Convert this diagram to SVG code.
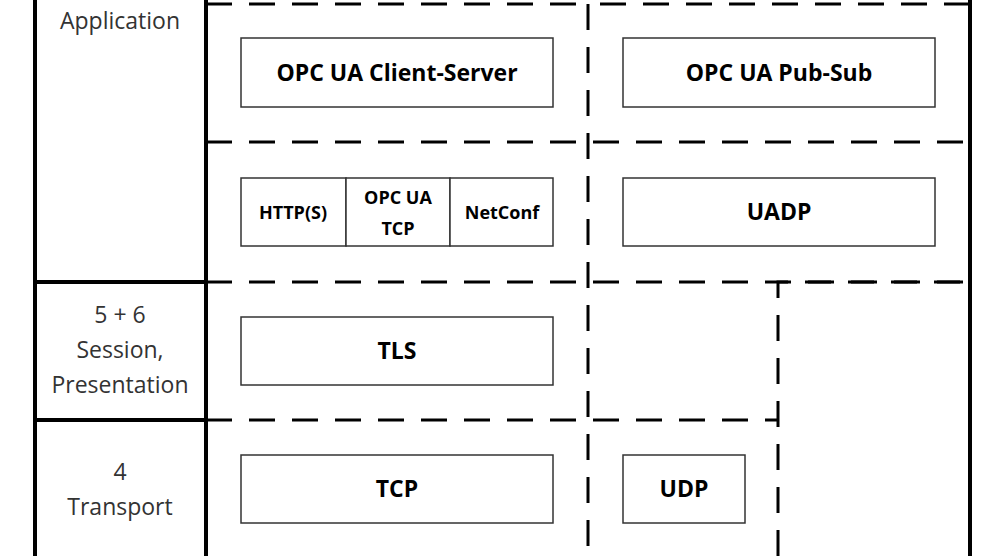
<svg xmlns="http://www.w3.org/2000/svg" width="1000" height="556" viewBox="0 0 1000 556">
<style>
.thick{stroke:#000;stroke-width:4;fill:none}
.dash{stroke:#000;stroke-width:3;fill:none;stroke-dasharray:26 17}
.box{fill:#fff;stroke:#333;stroke-width:1.5}
.b{font-family:"Open Sans","Liberation Sans",sans-serif;font-weight:bold;font-size:23px;fill:#000;text-anchor:middle}
.s{font-family:"Open Sans","Liberation Sans",sans-serif;font-weight:bold;font-size:18px;fill:#000;text-anchor:middle}
.l{font-family:"Open Sans","Liberation Sans",sans-serif;font-size:23px;fill:#333;text-anchor:middle}
</style>
<rect width="1000" height="556" fill="#fff"/>
<g id="frame">
<line class="thick" x1="35" y1="0" x2="35" y2="556"/>
<line class="thick" x1="206" y1="0" x2="206" y2="556"/>
<line class="thick" x1="35" y1="282" x2="206" y2="282"/>
<line class="thick" x1="35" y1="420" x2="206" y2="420"/>
<line class="thick" x1="970" y1="0" x2="970" y2="556"/>
</g>
<g id="connectors">
<line class="dash" x1="206" y1="4" x2="588" y2="4"/>
<line class="dash" x1="600" y1="4" x2="970" y2="4"/>
<line class="dash" x1="588" y1="4" x2="588" y2="556"/>
<line class="dash" x1="206" y1="142" x2="970" y2="142"/>
<line class="dash" x1="206" y1="282" x2="970" y2="282"/>
<line class="dash" x1="206" y1="420" x2="778" y2="420"/>
<path class="dash" d="M778 556 V282 H970"/>
</g>
<g id="labels">
<text class="l" x="120" y="29">Application</text>
<text class="l" x="120" y="323">5 + 6</text>
<text class="l" x="120" y="358">Session,</text>
<text class="l" x="120" y="393">Presentation</text>
<text class="l" x="120" y="480">4</text>
<text class="l" x="120" y="515">Transport</text>
</g>
<g id="client-server"><rect class="box" x="241" y="38" width="312" height="69"/><text class="b" x="397" y="81">OPC UA Client-Server</text></g>
<g id="pub-sub"><rect class="box" x="623" y="38" width="312" height="69"/><text class="b" x="779" y="81">OPC UA Pub-Sub</text></g>
<g id="http"><rect class="box" x="241" y="178" width="105" height="68"/><text class="s" x="293" y="219">HTTP(S)</text></g>
<g id="opcua-tcp"><rect class="box" x="346" y="178" width="104" height="68"/><text class="s" x="398" y="204">OPC UA</text><text class="s" x="398" y="235">TCP</text></g>
<g id="netconf"><rect class="box" x="450" y="178" width="103" height="68"/><text class="s" x="502" y="219">NetConf</text></g>
<g id="uadp"><rect class="box" x="623" y="178" width="312" height="68"/><text class="b" x="779" y="220">UADP</text></g>
<g id="tls"><rect class="box" x="241" y="317" width="312" height="68"/><text class="b" x="397" y="359">TLS</text></g>
<g id="tcp"><rect class="box" x="241" y="455" width="312" height="68"/><text class="b" x="397" y="497">TCP</text></g>
<g id="udp"><rect class="box" x="623" y="455" width="122" height="68"/><text class="b" x="684" y="497">UDP</text></g>
</svg>
